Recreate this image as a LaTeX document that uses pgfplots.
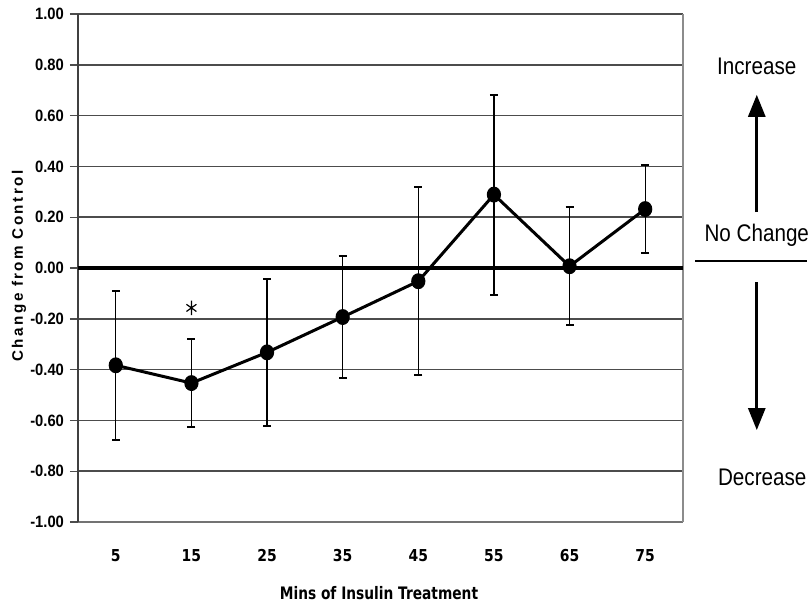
\documentclass[border=0pt]{standalone}
\usepackage{fontspec}
\setmainfont{Liberation Sans}
\newfontfamily\dvs{DejaVu Sans}
\usepackage{pgfplots}
\pgfplotsset{compat=1.18}
\usetikzlibrary{arrows.meta}
\newcommand\yl[1]{\scalebox{0.9}[1]{#1}}
\newcommand\xl[1]{\scalebox{0.85}[1]{#1}}
\newcommand\rt[1]{\scalebox{0.86}[1]{#1}}
\begin{document}
\begin{tikzpicture}
\begin{axis}[
  scale only axis, width=302.5pt, height=254pt,
  xmin=-0.5, xmax=7.5, ymin=-1, ymax=1,
  xtick={0,1,2,3,4,5,6,7},
  xticklabels={\xl{5},\xl{15},\xl{25},\xl{35},\xl{45},\xl{55},\xl{65},\xl{75}},
  ytick={-1,-0.8,-0.6,-0.4,-0.2,0,0.2,0.4,0.6,0.8,1},
  yticklabels={\yl{-1.00},\yl{-0.80},\yl{-0.60},\yl{-0.40},\yl{-0.20},\yl{0.00},\yl{0.20},\yl{0.40},\yl{0.60},\yl{0.80},\yl{1.00}},
  xtick style={draw=none},
  ytick style={black!70, line width=0.7pt},
  tick align=outside, major tick length=4pt,
  ymajorgrids, grid style={black!70, line width=0.75pt},
  axis line style={black!55, line width=0.7pt},
  axis x line*=bottom, axis y line*=left,
  clip=false,
  yticklabel style={font=\bfseries\fontsize{8.2}{10}\selectfont, xshift=0.5pt},
  xticklabel style={font=\dvs\bfseries\fontsize{8.2}{10}\selectfont, yshift=-6pt},
  xlabel={\scalebox{0.8}[1]{Mins of Insulin Treatment}},
  xlabel style={font=\dvs\bfseries\fontsize{8.6}{10}\selectfont, at={(axis description cs:0.4975,-0.1398)}, anchor=center},
  ylabel={Change from Control},
  ylabel style={font=\bfseries\fontsize{7.6}{9}\selectfont\addfontfeature{LetterSpace=16}, at={(axis description cs:-0.0975,0.504)}, anchor=center},
]
% bounding box matching reference
\path (rel axis cs:-0.1289,-0.1693) rectangle (rel axis cs:1.2083,1.0276);
% frame lines
\draw[black!45, line width=0.6pt] (rel axis cs:1,0) -- (rel axis cs:1,1);
\draw[black!75, line width=1pt] (rel axis cs:0,0) -- (rel axis cs:0,1);
% zero line
\addplot[black, line width=1.8pt, forget plot] coordinates {(-0.5,0) (7.5,0)};
% data
\addplot[black, line width=1.5pt, mark=*, mark size=2.8pt, mark options={yscale=1.15},
  error bars/.cd, y dir=both, y explicit,
  error bar style={line width=0.6pt, black},
  error mark options={rotate=90, mark size=2pt, line width=1pt, black}]
  coordinates {
  (0,-0.383) +- (0,0.294)
  (1,-0.453) +- (0,0.172)
  (2,-0.332) +- (0,0.289)
  (3,-0.193) +- (0,0.241)
  (4,-0.052) +- (0,0.370)
  (5,0.289) +- (0,0.394)
  (6,0.007) +- (0,0.232)
  (7,0.232) +- (0,0.173)
  };
% significance asterisk
\addplot[only marks, mark=asterisk, mark size=3.6pt, mark options={line width=0.6pt, black, xscale=0.8}] coordinates {(1,-0.157)};
% right annotations
\node[inner sep=0pt, font=\fontsize{12}{14}\selectfont] at (rel axis cs:1.122,0.896) {\rt{Increase}};
\draw[line width=1.35pt, -{Triangle[width=8.5pt,length=11pt]}] (rel axis cs:1.122,0.610) -- (rel axis cs:1.122,0.841);
\node[inner sep=0pt, font=\fontsize{12}{14}\selectfont] at (rel axis cs:1.122,0.565) {\rt{No Change}};
\draw[line width=1.35pt] (rel axis cs:1.020,0.514) -- (rel axis cs:1.205,0.514);
\draw[line width=1.35pt, -{Triangle[width=8.5pt,length=11pt]}] (rel axis cs:1.122,0.472) -- (rel axis cs:1.122,0.181);
\node[inner sep=0pt, font=\fontsize{12}{14}\selectfont] at (rel axis cs:1.131,0.087) {\rt{Decrease}};
\end{axis}
\end{tikzpicture}
\end{document}
